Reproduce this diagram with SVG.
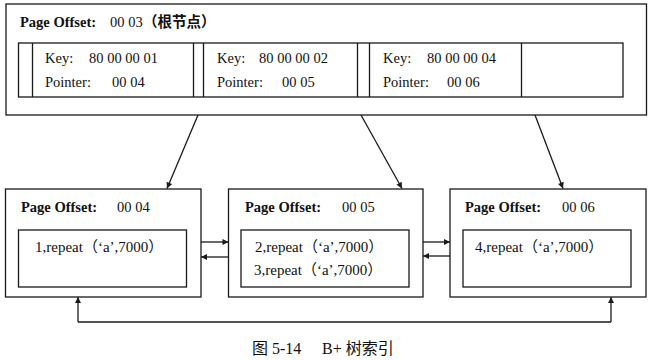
<svg xmlns="http://www.w3.org/2000/svg" width="655" height="360" viewBox="0 0 655 360">
<defs>
<style>
.box{fill:#fff;stroke:#1a1a1a;stroke-width:1.3}
.ln{fill:none;stroke:#1a1a1a;stroke-width:1.3}
.t{font-family:"Liberation Serif","Noto Sans CJK SC",serif;font-size:14.5px;fill:#111}
.r{font-size:15px}
.b{font-weight:bold}
.cap{font-family:"Liberation Serif","Noto Sans CJK SC",serif;font-size:16px;fill:#111}
</style>
<marker id="ah" viewBox="0 0 10 10" refX="10" refY="5" markerWidth="8" markerHeight="6" markerUnits="userSpaceOnUse" orient="auto">
<path d="M0,0 L10,5 L0,10 z" fill="#1a1a1a"/>
</marker>
</defs>
<rect width="655" height="360" fill="#fff"/>

<g id="root">
<rect class="box" x="6" y="4" width="640.5" height="111"/>
<text class="t" x="20" y="27"><tspan class="b">Page Offset:</tspan><tspan x="110">00 03</tspan><tspan class="b" x="143">（根节点）</tspan></text>
<rect class="box" x="18.5" y="43" width="604.5" height="54"/>
<path class="ln" d="M32.5,43V97M193.5,43V97M203.5,43V97M357.5,43V97M369.5,43V97M521.5,43V97"/>
<text class="t" x="45" y="63">Key:<tspan x="89">80 00 00 01</tspan></text>
<text class="t" x="45" y="87">Pointer:<tspan x="112">00 04</tspan></text>
<text class="t" x="217" y="63">Key:<tspan x="259">80 00 00 02</tspan></text>
<text class="t" x="217" y="87">Pointer:<tspan x="282">00 05</tspan></text>
<text class="t" x="383" y="63">Key:<tspan x="427">80 00 00 04</tspan></text>
<text class="t" x="383" y="87">Pointer:<tspan x="447">00 06</tspan></text>
</g>

<g id="page04">
<rect class="box" x="5.5" y="189" width="195.5" height="108"/>
<text class="t b" x="21" y="212">Page Offset:</text>
<text class="t" x="117" y="212">00 04</text>
<rect class="box" x="18.5" y="230" width="168" height="57"/>
<text class="t r" x="35" y="252">1,repeat（‘a’,7000）</text>
</g>

<g id="page05">
<rect class="box" x="228.5" y="189" width="194.5" height="108"/>
<text class="t b" x="245" y="212">Page Offset:</text>
<text class="t" x="342" y="212">00 05</text>
<rect class="box" x="241" y="230" width="168" height="57"/>
<text class="t r" x="255" y="252">2,repeat（‘a’,7000）</text>
<text class="t r" x="254" y="275">3,repeat（‘a’,7000）</text>
</g>

<g id="page06">
<rect class="box" x="450" y="189" width="196" height="108"/>
<text class="t b" x="465" y="212">Page Offset:</text>
<text class="t" x="562" y="212">00 06</text>
<rect class="box" x="463" y="230" width="168" height="57"/>
<text class="t r" x="475" y="252">4,repeat（‘a’,7000）</text>
</g>

<g id="connectors">
<line class="ln" x1="198" y1="115" x2="167" y2="188.5" marker-end="url(#ah)"/>
<line class="ln" x1="361" y1="115" x2="402" y2="188.5" marker-end="url(#ah)"/>
<line class="ln" x1="535" y1="115" x2="563" y2="188.5" marker-end="url(#ah)"/>
<line class="ln" x1="201" y1="242" x2="228.5" y2="242" marker-end="url(#ah)"/>
<line class="ln" x1="228.5" y1="257" x2="201" y2="257" marker-end="url(#ah)"/>
<line class="ln" x1="423" y1="242" x2="450" y2="242" marker-end="url(#ah)"/>
<line class="ln" x1="450" y1="256" x2="423" y2="256" marker-end="url(#ah)"/>
<polyline class="ln" points="78,322 611,322"/>
<line class="ln" x1="78" y1="322" x2="78" y2="297" marker-end="url(#ah)"/>
<line class="ln" x1="611" y1="322" x2="611" y2="297" marker-end="url(#ah)"/>
</g>

<text class="cap" x="252" y="354">图 5-14</text>
<text class="cap" x="322" y="354">B+ 树索引</text>
</svg>
